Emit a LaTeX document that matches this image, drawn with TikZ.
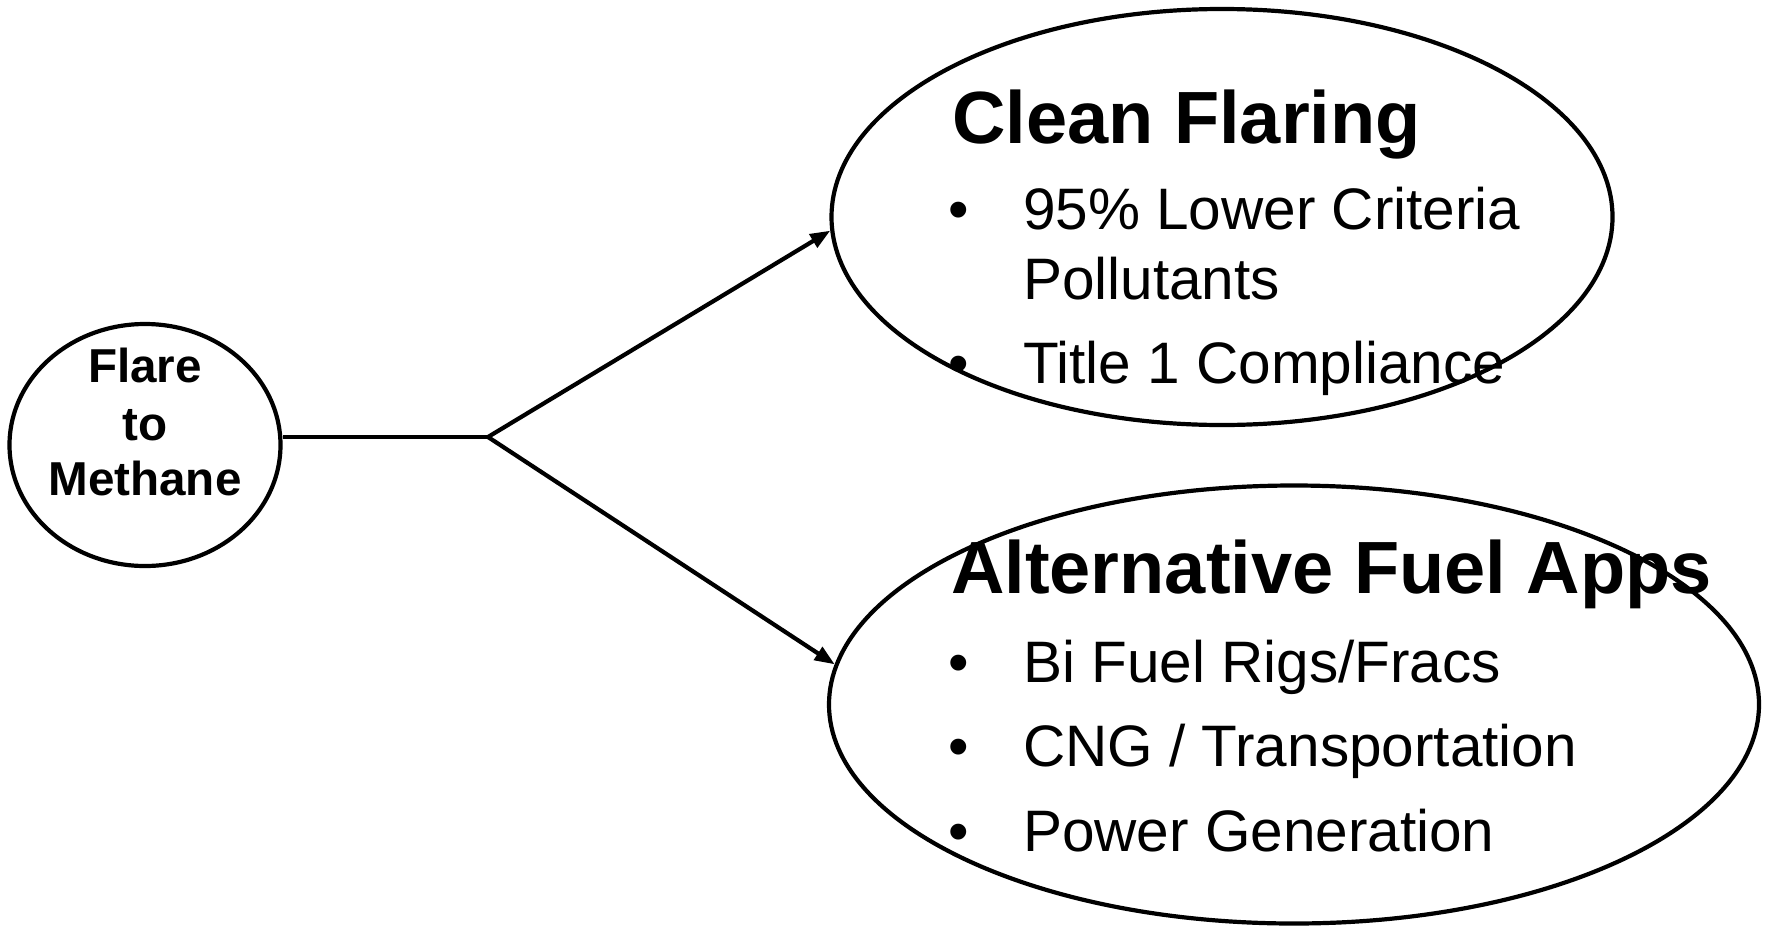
\documentclass[tikz,border=0pt]{standalone}
\usepackage{fontspec}
\setmainfont{Liberation Sans}
\usetikzlibrary{shapes.geometric,arrows.meta}
\begin{document}
\begin{tikzpicture}[x=1bp,y=-1bp,line width=4.2bp,
  oval/.style={draw,ellipse,inner sep=0pt},
  bigt/.style={font=\fontsize{74bp}{80bp}\selectfont\bfseries,anchor=base west,inner sep=0pt},
  itemt/.style={font=\fontsize{58.5bp}{64bp}\selectfont,anchor=base west,inner sep=0pt},
  smallt/.style={font=\fontsize{47.6bp}{57bp}\selectfont\bfseries,anchor=base,inner sep=0pt},
  arr/.style={-{Triangle[length=20bp,width=15bp]}}]
\useasboundingbox (0,0) rectangle (1767,927);
% ellipses
\node[oval,minimum width=271bp,minimum height=242bp] (L) at (145,445) {};
\node[oval,minimum width=781bp,minimum height=416bp] (T) at (1222,217) {};
\node[oval,minimum width=930bp,minimum height=438bp] (B) at (1294,704.5) {};
% left text
\node[smallt] (f1) at (145,382) {Flare};
\node[smallt] (f2) at (145,440) {to};
\node[smallt] (f3) at (145,495) {Methane};
% connectors
\coordinate (J) at (488,437);
\draw (L.east |- J) -- (J);
\draw[arr] (J) -- (T.182);
\draw[arr] (J) -- (B.175);
% top text
\node[bigt] (t0) at (950,143) {Clean Flaring};
\node[itemt] (tb1) at (946,229) {•};
\node[itemt] (t1) at (1021,229) {95\% Lower Criteria};
\node[itemt] (t2) at (1021,299) {Pollutants};
\node[itemt] (tb2) at (946,383) {•};
\node[itemt] (t3) at (1021,383) {Title 1 Compliance};
% bottom text
\node[bigt] (b0) at (949,593) {Alternative Fuel Apps};
\node[itemt] (bb1) at (946,682) {•};
\node[itemt] (b1) at (1021,682) {Bi Fuel Rigs/Fracs};
\node[itemt] (bb2) at (946,766) {•};
\node[itemt] (b2) at (1021,766) {CNG / Transportation};
\node[itemt] (bb3) at (946,851) {•};
\node[itemt] (b3) at (1021,851) {Power Generation};
\end{tikzpicture}
\end{document}
